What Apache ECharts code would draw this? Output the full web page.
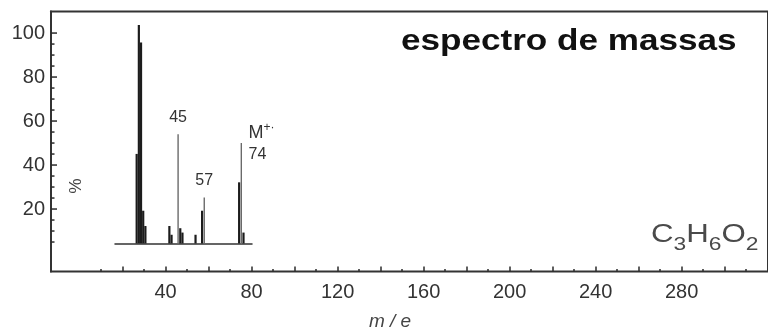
<!DOCTYPE html>
<html>
<head>
<meta charset="utf-8">
<script src="https://cdn.jsdelivr.net/npm/echarts@6/dist/echarts.min.js"></script>
<style>
  html, body { margin: 0; padding: 0; background: #fff; }
  #chart { width: 768px; height: 336px; }
</style>
</head>
<body>
<div id="chart"></div>
<script>
// Fragment peaks: m/z and relative intensity (%)
const peakMz  = [26, 27, 28, 29, 30, 41, 42, 46, 47, 53, 56, 73, 75];
const peakPct = [41, 100, 92, 15, 8, 8, 4, 7, 5, 4, 15, 28, 5];
// Annotated peaks (45, 57 and the molecular ion 74)
const keyMz  = [45, 57, 74];
const keyPct = [50, 21, 46];
// Axis ticks
const mzLabels    = [40, 80, 120, 160, 200, 240, 280];
const mzMajor     = [20, 40, 60, 80, 100, 120, 140, 160, 180, 200, 220, 240, 260, 280, 300];
const mzMinor     = [10, 30, 50, 70, 90, 110, 130, 150, 170, 190, 210, 230, 250, 270, 290, 310];
const pctLabels   = [20, 40, 60, 80, 100];
const pctMinor    = [5, 10, 15, 25, 30, 35, 45, 50, 55, 65, 70, 75, 85, 90, 95];

const FONT = 'Liberation Sans, Arial, sans-serif';
const INK = '#2b2b2b';

// outer frame scale
const X_MIN = -13.3, X_MAX = 320.2;
const Y_MIN = -8.4, Y_MAX = 109.8;
// inner spectrum panel (same m/z scale, own % scale)
const IN_X_MIN = 16.06, IN_X_MAX = 78.9;

const chart = echarts.init(document.getElementById('chart'), null, { renderer: 'canvas' });

function hiddenAxis(extra) {
  return Object.assign({
    type: 'value', show: false,
    axisLine: { show: false, onZero: false }, axisTick: { show: false },
    axisLabel: { show: false }, splitLine: { show: false }
  }, extra);
}

// % ticks on the left frame edge, placed through the frame's y scale
const pctTickData = pctLabels.map(v => [X_MIN, v, 1]).concat(pctMinor.map(v => [X_MIN, v, 0]));

chart.setOption({
  animation: false,
  backgroundColor: '#fff',
  grid: [
    // grid 0: outer frame with the m/z axis
    { left: 51, top: 11.5, width: 727, height: 260, show: true,
      borderColor: '#333', borderWidth: 2, backgroundColor: 'transparent' },
    // grid 1: spectrum panel
    { left: 115, top: 25, width: 137, height: 218.5 },
    // grid 2: carries the % labels of the frame
    { left: 51, top: 11.5, width: 300, height: 260 }
  ],
  xAxis: [
    { type: 'value', gridIndex: 0, min: X_MIN, max: X_MAX, position: 'bottom',
      axisLine: { show: false, onZero: false }, splitLine: { show: false },
      axisTick: { show: true, inside: true, length: 5, customValues: mzMajor,
                  lineStyle: { color: INK, width: 1.5 } },
      axisLabel: { customValues: mzLabels, fontSize: 20, color: '#333',
                   fontFamily: FONT, margin: 11 } },
    { type: 'value', gridIndex: 0, min: X_MIN, max: X_MAX, position: 'bottom', offset: 0,
      axisLine: { show: false, onZero: false }, splitLine: { show: false },
      axisLabel: { show: false },
      axisTick: { show: true, inside: true, length: 2.5, customValues: mzMinor,
                  lineStyle: { color: INK, width: 1.5 } } },
    { type: 'value', gridIndex: 1, min: IN_X_MIN, max: IN_X_MAX, position: 'bottom',
      axisLine: { show: true, onZero: false, lineStyle: { color: '#333', width: 1.5 } },
      axisTick: { show: false }, axisLabel: { show: false }, splitLine: { show: false } },
    hiddenAxis({ gridIndex: 1, min: IN_X_MIN, max: IN_X_MAX }),
    { type: 'value', gridIndex: 2, min: 0, max: 10,
      axisLine: { show: false }, axisTick: { show: false },
      axisLabel: { show: false }, splitLine: { show: false } }
  ],
  yAxis: [
    { type: 'value', gridIndex: 2, min: Y_MIN, max: Y_MAX, position: 'left',
      axisLine: { show: true, onZero: false, lineStyle: { color: '#333', width: 2 } },
      splitLine: { show: false }, axisTick: { show: false },
      axisLabel: { customValues: pctLabels, fontSize: 20, color: '#333',
                   fontFamily: FONT, margin: 6 } },
    hiddenAxis({ gridIndex: 2, min: Y_MIN, max: Y_MAX }),
    hiddenAxis({ gridIndex: 1, min: 0, max: 100 }),
    hiddenAxis({ gridIndex: 0, min: Y_MIN, max: Y_MAX })
  ],
  series: [
    // tick marks of the % axis
    { type: 'custom', xAxisIndex: 0, yAxisIndex: 3, silent: true, clip: false,
      data: pctTickData,
      renderItem: (params, api) => {
        const p = api.coord([api.value(0), api.value(1)]);
        const len = api.value(2) ? 6 : 3.5;
        return { type: 'line',
                 shape: { x1: p[0], y1: p[1], x2: p[0] + len, y2: p[1] },
                 style: { stroke: INK, lineWidth: 1.5 } };
      } },
    { type: 'bar', xAxisIndex: 2, yAxisIndex: 2, barWidth: 2.2, silent: true,
      itemStyle: { color: '#1c1c1c' },
      data: peakMz.map((m, i) => [m, peakPct[i]]) },
    { type: 'bar', xAxisIndex: 3, yAxisIndex: 2, barWidth: 1.4, silent: true,
      itemStyle: { color: '#6a6a6a' },
      label: {
        show: true, position: 'top', distance: 9, fontSize: 16, color: '#333', fontFamily: FONT,
        formatter: p => String(p.value[0])
      },
      data: keyMz.map((m, i) => {
        const item = { value: [m, keyPct[i]] };
        if (i === keyMz.length - 1) {
          item.label = {
            position: [8, -21], align: 'left', verticalAlign: 'top',
            formatter: p => '{ion|M}{chg|+·}\n{n|' + p.value[0] + '}',
            rich: {
              ion: { fontSize: 18, color: '#333', fontFamily: FONT, lineHeight: 22 },
              chg: { fontSize: 12, color: '#333', fontFamily: FONT, padding: [0, 0, 10, 0] },
              n:   { fontSize: 16, color: '#333', fontFamily: FONT, lineHeight: 22 }
            }
          };
        }
        return item;
      }) }
  ],
  graphic: [
    { type: 'text', x: 401, y: 42, scaleX: 1.17, silent: true,
      style: { text: 'espectro de massas', font: 'bold 30px ' + FONT, fill: '#111',
               verticalAlign: 'middle' } },
    { type: 'text', x: 651, y: 240, scaleX: 1.2, silent: true,
      style: {
        text: '{c|C}{s|3}{c|H}{s|6}{c|O}{s|2}', verticalAlign: 'middle',
        rich: {
          c: { fontSize: 26, fill: '#4a4a4a', fontFamily: FONT, padding: [0, 0, 10, 0] },
          s: { fontSize: 19, fill: '#4a4a4a', fontFamily: FONT, padding: [10, 0, 0, 0] }
        }
      } },
    { type: 'text', x: 74, y: 186, rotation: -Math.PI / 2, silent: true,
      style: { text: '%', font: '17px ' + FONT, fill: '#444', align: 'center', verticalAlign: 'middle' } },
    { type: 'text', x: 390, y: 322, silent: true,
      style: { text: 'm / e', font: 'italic 19px ' + FONT, fill: '#444',
               align: 'center', verticalAlign: 'middle' } }
  ]
});
</script>
</body>
</html>
